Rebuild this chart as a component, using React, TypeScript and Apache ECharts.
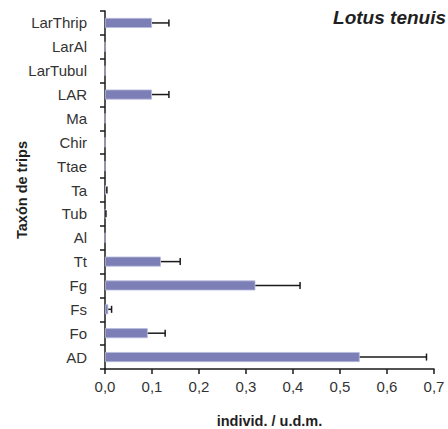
import React, { useEffect, useRef } from "react";
import * as echarts from "echarts";

const categories = ["LarThrip", "LarAl", "LarTubul", "LAR", "Ma", "Chir", "Ttae", "Ta", "Tub", "Al", "Tt", "Fg", "Fs", "Fo", "AD"];
const means = [0.1, 0, 0, 0.1, 0, 0, 0, 0.002, 0.001, 0, 0.119, 0.32, 0.007, 0.091, 0.542];
const upper = [0.136, 0, 0, 0.136, 0, 0, 0, 0.004, 0.002, 0, 0.16, 0.415, 0.014, 0.128, 0.684];
const xTicks = [0, 0.7, 0.1];

const FONT = "'Liberation Sans', Arial, sans-serif";

export default function App() {
  const ref = useRef<HTMLDivElement>(null);
  useEffect(() => {
    if (!ref.current) return;
    const chart = echarts.init(ref.current, null, { renderer: "svg" });
    const errData = categories.map((c, i) => [means[i], upper[i], c]);
    chart.setOption({
      animation: false,
      backgroundColor: "#ffffff",
      textStyle: { fontFamily: FONT },
      grid: { left: 105, right: 14, top: 11, bottom: 60, containLabel: false, outerBoundsMode: "none" },
      graphic: [
        {
          type: "text",
          right: 2,
          top: 8,
          style: {
            text: "Lotus tenuis",
            font: `italic bold 19px ${FONT}`,
            fill: "#1f1f1f",
          },
        },
      ],
      xAxis: {
        type: "value",
        min: xTicks[0],
        max: xTicks[1],
        interval: xTicks[2],
        name: "individ. / u.d.m.",
        nameLocation: "middle",
        nameGap: 44,
        nameMoveOverlap: false,
        nameTextStyle: { fontWeight: "bold", fontSize: 14.5, color: "#1f1f1f", fontFamily: FONT },
        axisLine: { show: true, lineStyle: { color: "#1a1a1a", width: 1.5 } },
        axisTick: { show: true, length: 5, lineStyle: { color: "#1a1a1a", width: 1.5 } },
        axisLabel: {
          margin: 10,
          fontSize: 15,
          color: "#333333",
          fontFamily: FONT,
          formatter: (v: number) => v.toFixed(1).replace(".", ","),
        },
        splitLine: { show: false },
      },
      yAxis: {
        type: "category",
        data: categories,
        inverse: true,
        name: "Taxón de trips",
        nameLocation: "middle",
        nameGap: 76,
        nameMoveOverlap: false,
        nameRotate: 90,
        nameTextStyle: { fontWeight: "bold", fontSize: 14.5, color: "#1f1f1f", fontFamily: FONT },
        axisLine: { show: true, lineStyle: { color: "#1a1a1a", width: 1.5 } },
        axisTick: { show: true, length: 5, lineStyle: { color: "#1a1a1a", width: 1.5 } },
        axisLabel: { margin: 18, fontSize: 15, color: "#333333", fontFamily: FONT },
        splitLine: { show: false },
      },
      series: [
        {
          type: "bar",
          data: means,
          barWidth: 10,
          itemStyle: { color: "#7c7fb6", borderColor: "#b9bbdd", borderWidth: 0.8 },
          z: 2,
        },
        {
          type: "custom",
          data: errData,
          encode: { x: [0, 1], y: 2 },
          z: 3,
          renderItem: (params: any, api: any) => {
            const v0 = api.value(0);
            const v1 = api.value(1);
            const cat = api.value(2);
            if (!(v1 > v0)) return null;
            const p0 = api.coord([v0, cat]);
            const p1 = api.coord([v1, cat]);
            const style = { stroke: "#1a1a1a", lineWidth: 1.5 };
            return {
              type: "group",
              children: [
                { type: "line", shape: { x1: p0[0], y1: p0[1], x2: p1[0], y2: p1[1] }, style },
                { type: "line", shape: { x1: p1[0], y1: p1[1] - 3.5, x2: p1[0], y2: p1[1] + 3.5 }, style },
              ],
            };
          },
        },
      ],
    });
    return () => chart.dispose();
  }, []);
  return <div ref={ref} style={{ position: "fixed", left: 0, top: 0, width: 448, height: 429 }} />;
}
